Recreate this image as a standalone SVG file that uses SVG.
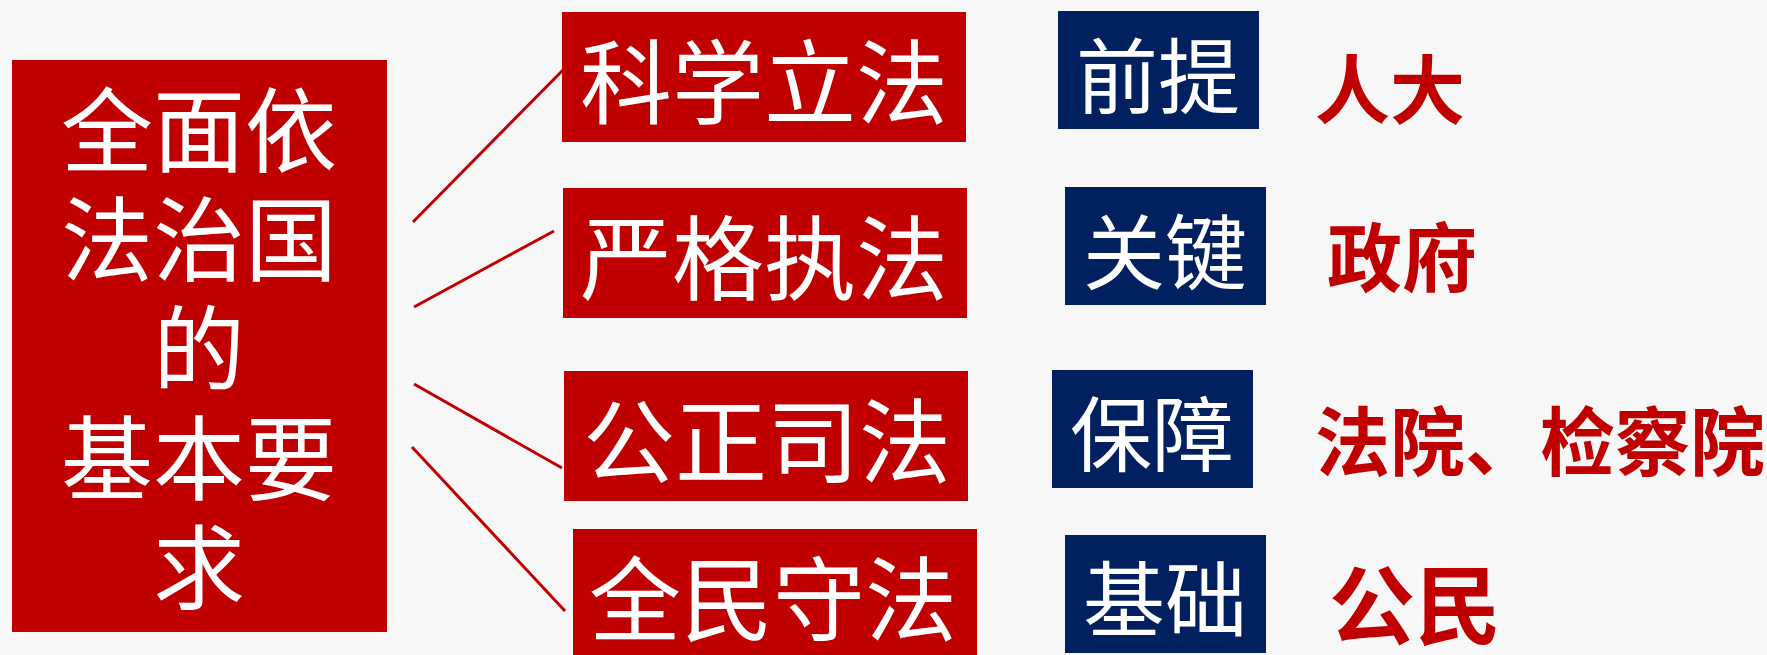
<svg xmlns="http://www.w3.org/2000/svg" width="1767" height="655" viewBox="0 0 1767 655">
<style>
.bg{fill:#f7f7f7}
.red{fill:#c00000}
.blue{fill:#002060}
.w{fill:#ffffff;font-family:"Noto Sans CJK SC","Noto Sans CJK TC",sans-serif;text-anchor:middle}
.big{font-size:92px}
.mid{font-size:82px}
.rt{fill:#c00000;font-family:"Noto Sans CJK SC","Noto Sans CJK TC",sans-serif;font-weight:700;font-size:75px}
.conn line{stroke:#c00000;stroke-width:3;fill:none}
</style>
<rect class="bg" x="0" y="0" width="1767" height="655"/>
<g id="connectors" class="conn">
<line x1="413" y1="222" x2="563" y2="70"/>
<line x1="414" y1="307" x2="554" y2="231"/>
<line x1="414" y1="384" x2="562" y2="468"/>
<line x1="412" y1="447" x2="565" y2="611"/>
</g>
<g id="main">
<rect class="red" x="12" y="60" width="375" height="572"/>
<text class="w big" x="199" y="165">全面依</text>
<text class="w big" x="199" y="274">法治国</text>
<text class="w big" x="199" y="383">的</text>
<text class="w big" x="199" y="493">基本要</text>
<text class="w big" x="199" y="602">求</text>
</g>
<g id="n1">
<rect class="red" x="562" y="12" width="404" height="130"/>
<text class="w big" x="764" y="117">科学立法</text>
</g>
<g id="n2">
<rect class="red" x="563" y="188" width="404" height="130"/>
<text class="w big" x="764" y="293">严格执法</text>
</g>
<g id="n3">
<rect class="red" x="564" y="371" width="404" height="130"/>
<text class="w big" x="767" y="476">公正司法</text>
</g>
<g id="n4">
<rect class="red" x="573" y="529" width="404" height="130"/>
<text class="w big" x="773" y="634">全民守法</text>
</g>
<g id="b1">
<rect class="blue" x="1058" y="11" width="201" height="118"/>
<text class="w mid" x="1158" y="107">前提</text>
</g>
<g id="b2">
<rect class="blue" x="1065" y="187" width="201" height="118"/>
<text class="w mid" x="1165" y="283">关键</text>
</g>
<g id="b3">
<rect class="blue" x="1052" y="370" width="201" height="118"/>
<text class="w mid" x="1152" y="465">保障</text>
</g>
<g id="b4">
<rect class="blue" x="1065" y="535" width="201" height="118"/>
<text class="w mid" x="1165" y="630">基础</text>
</g>
<g id="t1"><text class="rt" x="1315" y="118">人大</text></g>
<g id="t2"><text class="rt" x="1327" y="286">政府</text></g>
<g id="t3"><text class="rt" x="1315" y="470">法院、检察院</text></g>
<g id="t4"><text class="rt" x="1329" y="638" style="font-size:86px">公民</text></g>
</svg>
